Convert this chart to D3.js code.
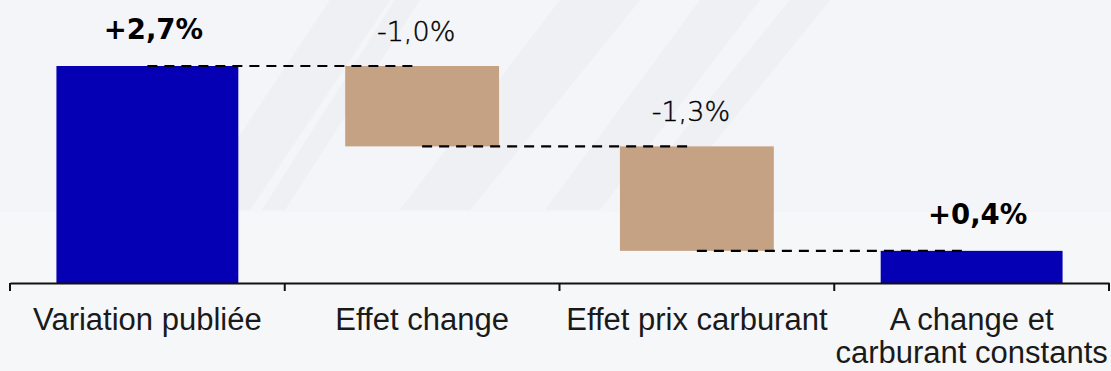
<!DOCTYPE html>
<html lang="fr">
<head>
<meta charset="utf-8">
<script src="https://cdn.jsdelivr.net/npm/d3@7"></script>
<style>
  html, body { margin: 0; padding: 0; background: #f4f5f8; }
  svg { display: block; }
</style>
</head>
<body>
<svg id="chart" width="1111" height="371"></svg>
<script>
// Waterfall: published change broken down into currency and fuel-price effects
const categories = ["Variation publiée", "Effet change", "Effet prix carburant", "A change et\ncarburant constants"];
const values     = [2.7, -1.0, -1.3, 0.4];
const kinds      = ["total", "delta", "delta", "total"];
const valueLabels = ["+2,7%", "-1,0%", "-1,3%", "+0,4%"];

const W = 1111, H = 371;
const svg = d3.select("#chart");

// faint diagonal backdrop bands
const bg = svg.append("g");
bg.append("rect").attr("width", W).attr("height", H).attr("fill", "#f4f5f8");
const bands = [
  [[330, 0], [390, 0], [250, 210], [190, 210]],
  [[395, 0], [420, 0], [285, 210], [262, 210]],
  [[560, 0], [640, 0], [470, 210], [400, 210]],
  [[700, 0], [760, 0], [600, 210], [545, 210]],
  [[790, 0], [830, 0], [660, 210], [620, 210]]
];
bg.selectAll("polygon").data(bands).join("polygon")
  .attr("points", d => d.map(p => p.join(",")).join(" "))
  .attr("fill", "#e8ebf0").attr("opacity", 0.5);
bg.append("rect").attr("x", 0).attr("y", 212).attr("width", W).attr("height", H - 212)
  .attr("fill", "#f6f7f9");

// running totals for the floating bars
let running = 0;
const rows = categories.map((c, i) => {
  let y0, y1;
  if (kinds[i] === "total") { y0 = 0; y1 = values[i]; running = values[i]; }
  else { y0 = running; y1 = running + values[i]; running = y1; }
  return { c, v: values[i], kind: kinds[i], label: valueLabels[i], lo: Math.min(y0, y1), hi: Math.max(y0, y1), end: running };
});

const x = d3.scaleBand().domain(categories).range([10, 1109]).paddingInner(0).paddingOuter(0);
const y = d3.scaleLinear().domain([0, 2.7]).range([283, 66]);

const widthFrac = { total: 0.662, delta: 0.56 };
const color = { total: "#0600b4", delta: "#c4a283" };
const cx = d => x(d.c) + x.bandwidth() / 2;

// bars
svg.append("g").selectAll("rect").data(rows).join("rect")
  .attr("x", d => cx(d) - x.bandwidth() * widthFrac[d.kind] / 2)
  .attr("width", d => x.bandwidth() * widthFrac[d.kind])
  .attr("y", d => y(d.hi))
  .attr("height", d => y(d.lo) - y(d.hi))
  .attr("fill", d => color[d.kind]);

// dashed connectors between consecutive levels
const links = rows.slice(0, -1).map((d, i) => ({ from: d, to: rows[i + 1] }));
svg.append("g").selectAll("line").data(links).join("line")
  .attr("x1", d => cx(d.from))
  .attr("x2", d => cx(d.to) - 5)
  .attr("y1", d => y(d.from.end))
  .attr("y2", d => y(d.from.end))
  .attr("stroke", "#000")
  .attr("stroke-width", 2.2)
  .attr("stroke-dasharray", "10,7");

// value labels
svg.append("g").selectAll("text").data(rows).join("text")
  .attr("x", d => cx(d) + (d.kind === "total" ? 6 : -6))
  .attr("y", d => y(d.hi) - (d.kind === "total" ? 27 : 25))
  .attr("text-anchor", "middle")
  .attr("font-family", "'DejaVu Sans', sans-serif")
  .attr("font-size", d => d.kind === "total" ? 27.5 : 27)
  .attr("font-weight", d => d.kind === "total" ? 700 : 200)
  .attr("fill", d => d.kind === "total" ? "#000" : "#000")
  .attr("stroke", d => d.kind === "total" ? "none" : "#000")
  .attr("stroke-width", 0.4)
  .text(d => d.label);

// category axis
const axis = svg.append("g").attr("transform", "translate(0,283)")
  .call(d3.axisBottom(x).tickSize(0).tickFormat(""));
axis.select(".domain").attr("stroke", "#111").attr("stroke-width", 2);

// boundary tick marks between categories
const bounds = categories.map(c => x(c)).concat([x.range()[1]]);
axis.selectAll("line.sep").data(bounds).join("line").attr("class", "sep")
  .attr("x1", d => d).attr("x2", d => d).attr("y1", 0).attr("y2", 8)
  .attr("stroke", "#111").attr("stroke-width", 2);

// wrapped category labels
const lab = svg.append("g").selectAll("text").data(categories).join("text")
  .attr("x", c => x(c) + x.bandwidth() / 2)
  .attr("y", 330)
  .attr("text-anchor", "middle")
  .attr("font-family", "'Liberation Sans', Arial, sans-serif")
  .attr("font-size", 31)
  .attr("fill", "#1a1a1a");
lab.each(function (c) {
  const t = d3.select(this);
  c.split("\n").forEach((line, j) => {
    t.append("tspan").attr("x", x(c) + x.bandwidth() / 2).attr("dy", j === 0 ? 0 : 33).text(line);
  });
});
</script>
</body>
</html>
